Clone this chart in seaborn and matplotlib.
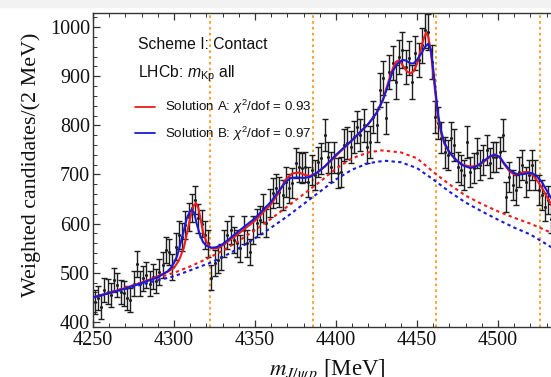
import numpy as np
import pandas as pd
import matplotlib
matplotlib.use("Agg")
import matplotlib.pyplot as plt
from matplotlib.patches import Rectangle
from matplotlib.ticker import MultipleLocator
import seaborn as sns

# ---------------- data ----------------
bin_start, bin_stop, bin_width = 4251, 4534, 2   # bin centres (2 MeV bins)

counts_r1 = [441, 449, 430, 465, 462, 455, 485, 475, 461, 458,
             449, 445, 478, 518, 478, 489, 496, 478, 492, 483,
             502, 516, 546, 542, 512, 553, 577, 573, 597, 614,
             632, 648, 611, 600, 577, 560, 490]
counts_r2 = [520, 526, 532, 560, 577, 587, 567, 560, 550, 587,
             560, 542, 587, 601, 607, 632, 601, 642, 662, 672,
             664, 658, 685, 672, 683, 723, 715, 713, 715, 685,
             709, 699, 725, 733]
counts_r3 = [780, 735, 715, 735, 703, 705, 760, 764, 756, 776,
             797, 780, 800, 756, 766, 817, 800, 872, 896, 815,
             908, 927, 888, 939, 953, 919, 937, 888, 947, 933,
             963, 994, 990, 929, 817]
counts_r4 = [805, 775, 745, 740, 775, 760, 715, 709, 699, 766,
             705, 713, 744, 719, 729, 750, 723, 736, 736, 745,
             780, 654, 695, 679, 668, 705, 719, 685, 699, 719,
             699, 668, 658, 634, 648, 610]

errors_r1 = [24, 24, 24, 25, 25, 24, 25, 25, 25, 25,
             24, 24, 25, 26, 25, 25, 26, 25, 25, 25,
             26, 26, 27, 27, 26, 27, 28, 28, 28, 29,
             29, 29, 29, 28, 28, 27, 25]
errors_r2 = [26, 26, 27, 27, 28, 28, 27, 27, 27, 28,
             27, 27, 28, 28, 28, 29, 28, 29, 30, 30,
             30, 30, 30, 30, 30, 31, 31, 31, 31, 30,
             31, 30, 31, 31]
errors_r3 = [32, 31, 31, 31, 31, 31, 32, 32, 32, 32,
             33, 32, 33, 32, 32, 33, 33, 34, 35, 33,
             35, 35, 34, 35, 36, 35, 35, 34, 35, 35,
             36, 36, 36, 35, 33]
errors_r4 = [33, 32, 31, 31, 32, 32, 31, 31, 30, 32,
             31, 31, 31, 31, 31, 31, 31, 31, 31, 31,
             32, 30, 30, 30, 30, 31, 31, 30, 30, 31,
             30, 30, 30, 29, 29, 29]

# Solution A (red) full fit
fitA_m = [4250, 4260, 4270, 4280, 4290, 4296, 4300, 4303, 4306, 4308,
          4310, 4312, 4313.5, 4315, 4316.5, 4318, 4320, 4322, 4324, 4327,
          4330, 4340, 4350, 4360, 4365, 4369, 4373, 4377, 4381, 4384,
          4388, 4393, 4400, 4410, 4420, 4425, 4429, 4432, 4435, 4437,
          4438.5, 4440, 4442, 4444, 4446, 4448, 4450, 4452, 4454, 4455.5,
          4457, 4458.5, 4460, 4461.5, 4463, 4465, 4467, 4470, 4474, 4478,
          4483, 4487, 4491, 4495, 4498, 4501, 4504, 4507, 4510, 4513,
          4516, 4519, 4522, 4525, 4528, 4531, 4534]
fitA_v = [450, 459, 469, 480, 493, 502, 510, 525, 550, 580,
          612, 636, 642, 632, 608, 582, 563, 553, 549, 550,
          556, 580, 606, 640, 665, 690, 702, 704, 699, 697,
          703, 716, 738, 770, 803, 825, 852, 885, 915, 929,
          932, 928, 918, 909, 906, 910, 925, 950, 975, 988,
          980, 950, 905, 860, 815, 783, 762, 745, 730, 720,
          716, 718, 725, 736, 741, 735, 720, 707, 700, 701,
          705, 705, 697, 684, 668, 650, 632]

# Solution B (blue) full fit
fitB_m = [4250, 4260, 4270, 4280, 4290, 4296, 4298, 4300, 4302, 4304,
          4306, 4308, 4310, 4311, 4312.5, 4314, 4316, 4318, 4320, 4323,
          4326, 4330, 4340, 4350, 4360, 4365, 4369, 4372, 4376, 4380,
          4384, 4388, 4393, 4400, 4410, 4420, 4425, 4429, 4432, 4435,
          4438, 4441, 4443, 4446, 4448, 4450, 4453, 4455, 4457, 4458.5,
          4460, 4461.5, 4463, 4465, 4467, 4470, 4474, 4478, 4483, 4487,
          4491, 4495, 4498, 4501, 4504, 4507, 4510, 4513, 4516, 4519,
          4521, 4524, 4527, 4530, 4534]
fitB_v = [450, 459, 468, 479, 491, 503, 510, 520, 535, 560,
          585, 612, 626, 628, 622, 600, 577, 562, 555, 551,
          552, 558, 585, 611, 645, 668, 685, 693, 694, 693,
          695, 703, 716, 740, 770, 803, 825, 852, 880, 910,
          926, 933, 932, 926, 926, 933, 948, 960, 966, 955,
          915, 868, 822, 787, 764, 745, 730, 719, 713, 717,
          727, 737, 740, 736, 722, 710, 703, 700, 701, 703,
          703, 696, 685, 668, 645]

# backgrounds (dotted)
bgA_m = [4250, 4260, 4270, 4280, 4290, 4300, 4310, 4320, 4330, 4340,
         4350, 4360, 4370, 4380, 4390, 4400, 4410, 4420, 4428, 4440,
         4450, 4462, 4470, 4480, 4490, 4500, 4510, 4520, 4534]
bgA_v = [450, 460, 470, 480, 490, 500, 513, 528, 545, 565,
         587, 610, 635, 660, 685, 712, 733, 745, 749, 745,
         733, 700, 680, 657, 640, 625, 612, 600, 580]
bgB_m = [4250, 4270, 4290, 4300, 4310, 4322, 4330, 4340, 4350, 4360,
         4370, 4380, 4390, 4400, 4410, 4420, 4430, 4440, 4450, 4460,
         4470, 4480, 4490, 4500, 4510, 4520, 4534]
bgB_v = [450, 467, 485, 493, 505, 520, 532, 550, 570, 592,
         615, 640, 665, 690, 710, 723, 728, 725, 713, 690,
         665, 643, 625, 608, 592, 578, 550]

thresholds = [4322.2, 4385.8, 4461.7, 4525.9]

labelA = r"Solution A: $\chi^2$/dof = 0.93"
labelB = r"Solution B: $\chi^2$/dof = 0.97"
x_ticks = [4250, 4300, 4350, 4400, 4450, 4500]
y_ticks = [400, 500, 600, 700, 800, 900, 1000]

# ---------------- style ----------------
sns.set_style("ticks")
plt.rcParams["font.family"] = ["Liberation Serif", "DejaVu Serif"]
plt.rcParams["mathtext.fontset"] = "custom"
plt.rcParams["mathtext.rm"] = "Liberation Sans"
plt.rcParams["mathtext.it"] = "Liberation Sans:italic"
plt.rcParams["mathtext.bf"] = "Liberation Sans:bold"

RED = "#ee1c1c"
BLUE = "#1a1ad6"
ORANGE = "#f4a23a"
INK = "#1e1e1e"

W, H = 551, 377
AXW = W - 93 + 12
fig = plt.figure(figsize=(W / 100, H / 100), dpi=100)
fig.patches.append(Rectangle((0, (H - 7) / H), 1, 7 / H, transform=fig.transFigure,
                             color="#f2f2f2", zorder=0))
ax = fig.add_axes([93 / W, 50 / H, AXW / W, 314 / H])

bins = np.arange(bin_start, bin_stop, bin_width)
counts = counts_r1 + counts_r2 + counts_r3 + counts_r4
errors = errors_r1 + errors_r2 + errors_r3 + errors_r4
data = pd.DataFrame({"m": bins, "n": counts, "err": errors})

for t in thresholds:
    ax.axvline(t, color=ORANGE, lw=1.5, ls=(0, (1.2, 1.6)), zorder=1)

ax.errorbar(data["m"], data["n"], yerr=data["err"], fmt="none", ecolor=INK,
            elinewidth=1.0, capsize=2.3, capthick=1.0, zorder=2)
sns.scatterplot(data=data, x="m", y="n", ax=ax, color=INK, s=5, linewidth=0, zorder=2)

sns.lineplot(x=bgA_m, y=bgA_v, ax=ax, color=RED, lw=1.5, ls=(0, (1.6, 1.6)),
             sort=False, estimator=None, zorder=3)
sns.lineplot(x=bgB_m, y=bgB_v, ax=ax, color=BLUE, lw=1.5, ls=(0, (1.6, 1.6)),
             sort=False, estimator=None, zorder=3)
sns.lineplot(x=fitA_m, y=fitA_v, ax=ax, color=RED, lw=1.5, sort=False,
             estimator=None, zorder=4)
sns.lineplot(x=fitB_m, y=fitB_v, ax=ax, color=BLUE, lw=1.5, sort=False,
             estimator=None, zorder=5)

ax.set_xlim(4250, 4250 + AXW / 1.62)
ax.set_ylim(389.8, 1028.5)
ax.set_xticks(x_ticks)
ax.set_yticks(y_ticks)
ax.xaxis.set_minor_locator(MultipleLocator(10))
ax.yaxis.set_minor_locator(MultipleLocator(20))
ax.tick_params(which="both", direction="in", top=True, right=False,
               color="#333333", labelsize=14.5, labelcolor="#111111")
ax.tick_params(axis="x", which="major", pad=3)
ax.tick_params(axis="y", which="major", pad=2)
ax.tick_params(which="major", length=5, width=0.9)
ax.tick_params(which="minor", length=3, width=0.7)
for s in ax.spines.values():
    s.set_color("#333333")
    s.set_linewidth(1.0)

ax.set_xlabel(r"$m_{J/\psi\,p}$ [MeV]", fontsize=16.5, color="#111111",
              math_fontfamily="stix")
ax.set_ylabel("Weighted candidates/(2 MeV)", fontsize=15.8, color="#111111")
ax.xaxis.set_label_coords((327 - 93) / AXW, -0.097)
ax.yaxis.set_label_coords(-(93 - 41) / AXW, (H - 165 - 50) / 314)

sans = ["Liberation Sans", "DejaVu Sans"]
def fx(px):
    return px / W
def fy(py):
    return 1 - py / H

fig.text(fx(138), fy(49), "Scheme I: Contact", family=sans, fontsize=11.3,
         color="#111111", va="baseline")
fig.text(fx(138), fy(77), r"LHCb: $m_{\mathrm{Kp}}$ all", family=sans, fontsize=11.3,
         color="#111111", va="baseline")
fig.lines.append(plt.Line2D([fx(135), fx(155)], [fy(107), fy(107)], color=RED,
                            lw=1.3, transform=fig.transFigure))
fig.lines.append(plt.Line2D([fx(135), fx(155)], [fy(133), fy(133)], color=BLUE,
                            lw=1.3, transform=fig.transFigure))
fig.text(fx(165), fy(111), labelA, family=sans, fontsize=9.6, color="#111111",
         va="baseline")
fig.text(fx(165), fy(138), labelB, family=sans, fontsize=9.6, color="#111111",
         va="baseline")

fig.savefig("out.png", dpi=100)
